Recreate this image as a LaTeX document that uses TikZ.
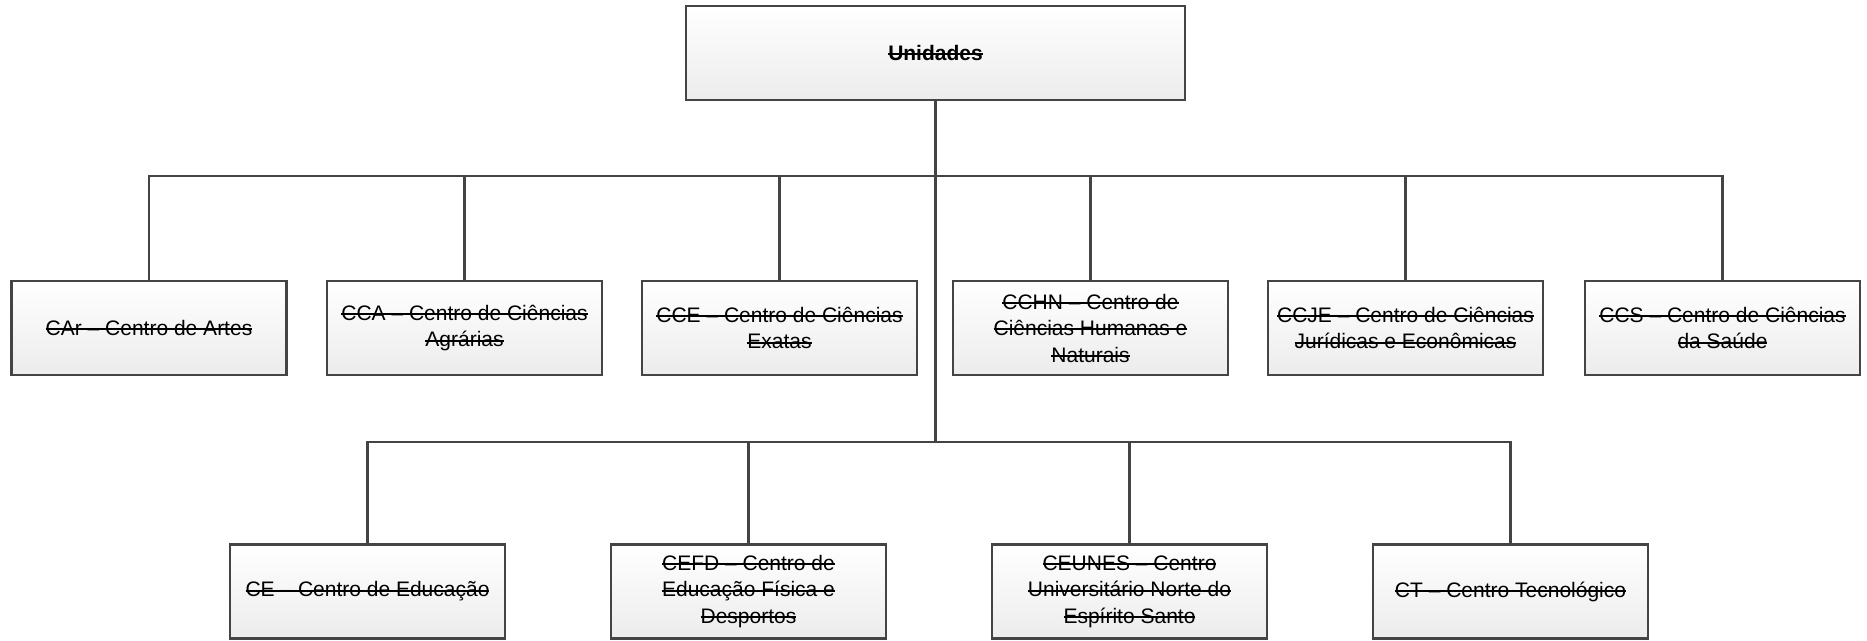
\documentclass[tikz,border=0pt]{standalone}
\usepackage{fontspec}
\setmainfont{Liberation Sans}
\newsavebox\stkbox
\newcommand\stk[1]{\sbox\stkbox{#1}\rlap{\rule[0.24em]{\wd\stkbox}{2pt}}\usebox\stkbox}
\definecolor{edge}{HTML}{444444}
\definecolor{boxbot}{HTML}{ECECEC}
\tikzset{
  unitbox/.style={draw=edge, line width=2.2pt, top color=white, bottom color=boxbot,
    minimum width=275pt, minimum height=94pt, inner sep=0pt, align=center,
    font=\fontsize{21}{26.5}\selectfont},
  topbox/.style={unitbox, minimum width=499pt, font=\fontsize{21}{26.5}\selectfont\bfseries},
  conn/.style={draw=edge, line width=2.8pt}
}
\begin{document}
\begin{tikzpicture}[x=1pt,y=-1pt]
\useasboundingbox (0,0) rectangle (1867,640);
\coordinate (j1) at (935.5,176);
\coordinate (j2) at (935.5,442);
\node[topbox] (top) at (935.5,53) {\stk{Unidades}};
% row 1
\node[unitbox] (a1) at (149,328) {\stk{CAr – Centro de Artes}};
\node[unitbox] (a2) at (464.5,328) {\stk{CCA – Centro de Ciências}\\\stk{Agrárias}};
\node[unitbox] (a3) at (779.5,328) {\stk{CCE – Centro de Ciências}\\\stk{Exatas}};
\node[unitbox] (a4) at (1090.5,328) {\stk{CCHN – Centro de}\\\stk{Ciências Humanas e}\\\stk{Naturais}};
\node[unitbox] (a5) at (1405.5,328) {\stk{CCJE – Centro de Ciências}\\\stk{Jurídicas e Econômicas}};
\node[unitbox] (a6) at (1722.5,328) {\stk{CCS – Centro de Ciências}\\\stk{da Saúde}};
% row 2
\node[unitbox] (b1) at (367.5,591.5) {\stk{CE – Centro de Educação}};
\node[unitbox] (b2) at (748.5,591.5) {\stk{CEFD – Centro de}\\\stk{Educação Física e}\\\stk{Desportos}};
\node[unitbox] (b3) at (1129.5,591.5) {\stk{CEUNES – Centro}\\\stk{Universitário Norte do}\\\stk{Espírito Santo}};
\node[unitbox] (b4) at (1510.5,591.5) {\stk{CT – Centro Tecnológico}};
% connectors
\draw[conn] (top.south) -- (j2);
\foreach \n in {a1,a2,a3,a4,a5,a6} \draw[conn] (j1) -| (\n.north);
\foreach \n in {b1,b2,b3,b4} \draw[conn] (j2) -| (\n.north);
\end{tikzpicture}
\end{document}
